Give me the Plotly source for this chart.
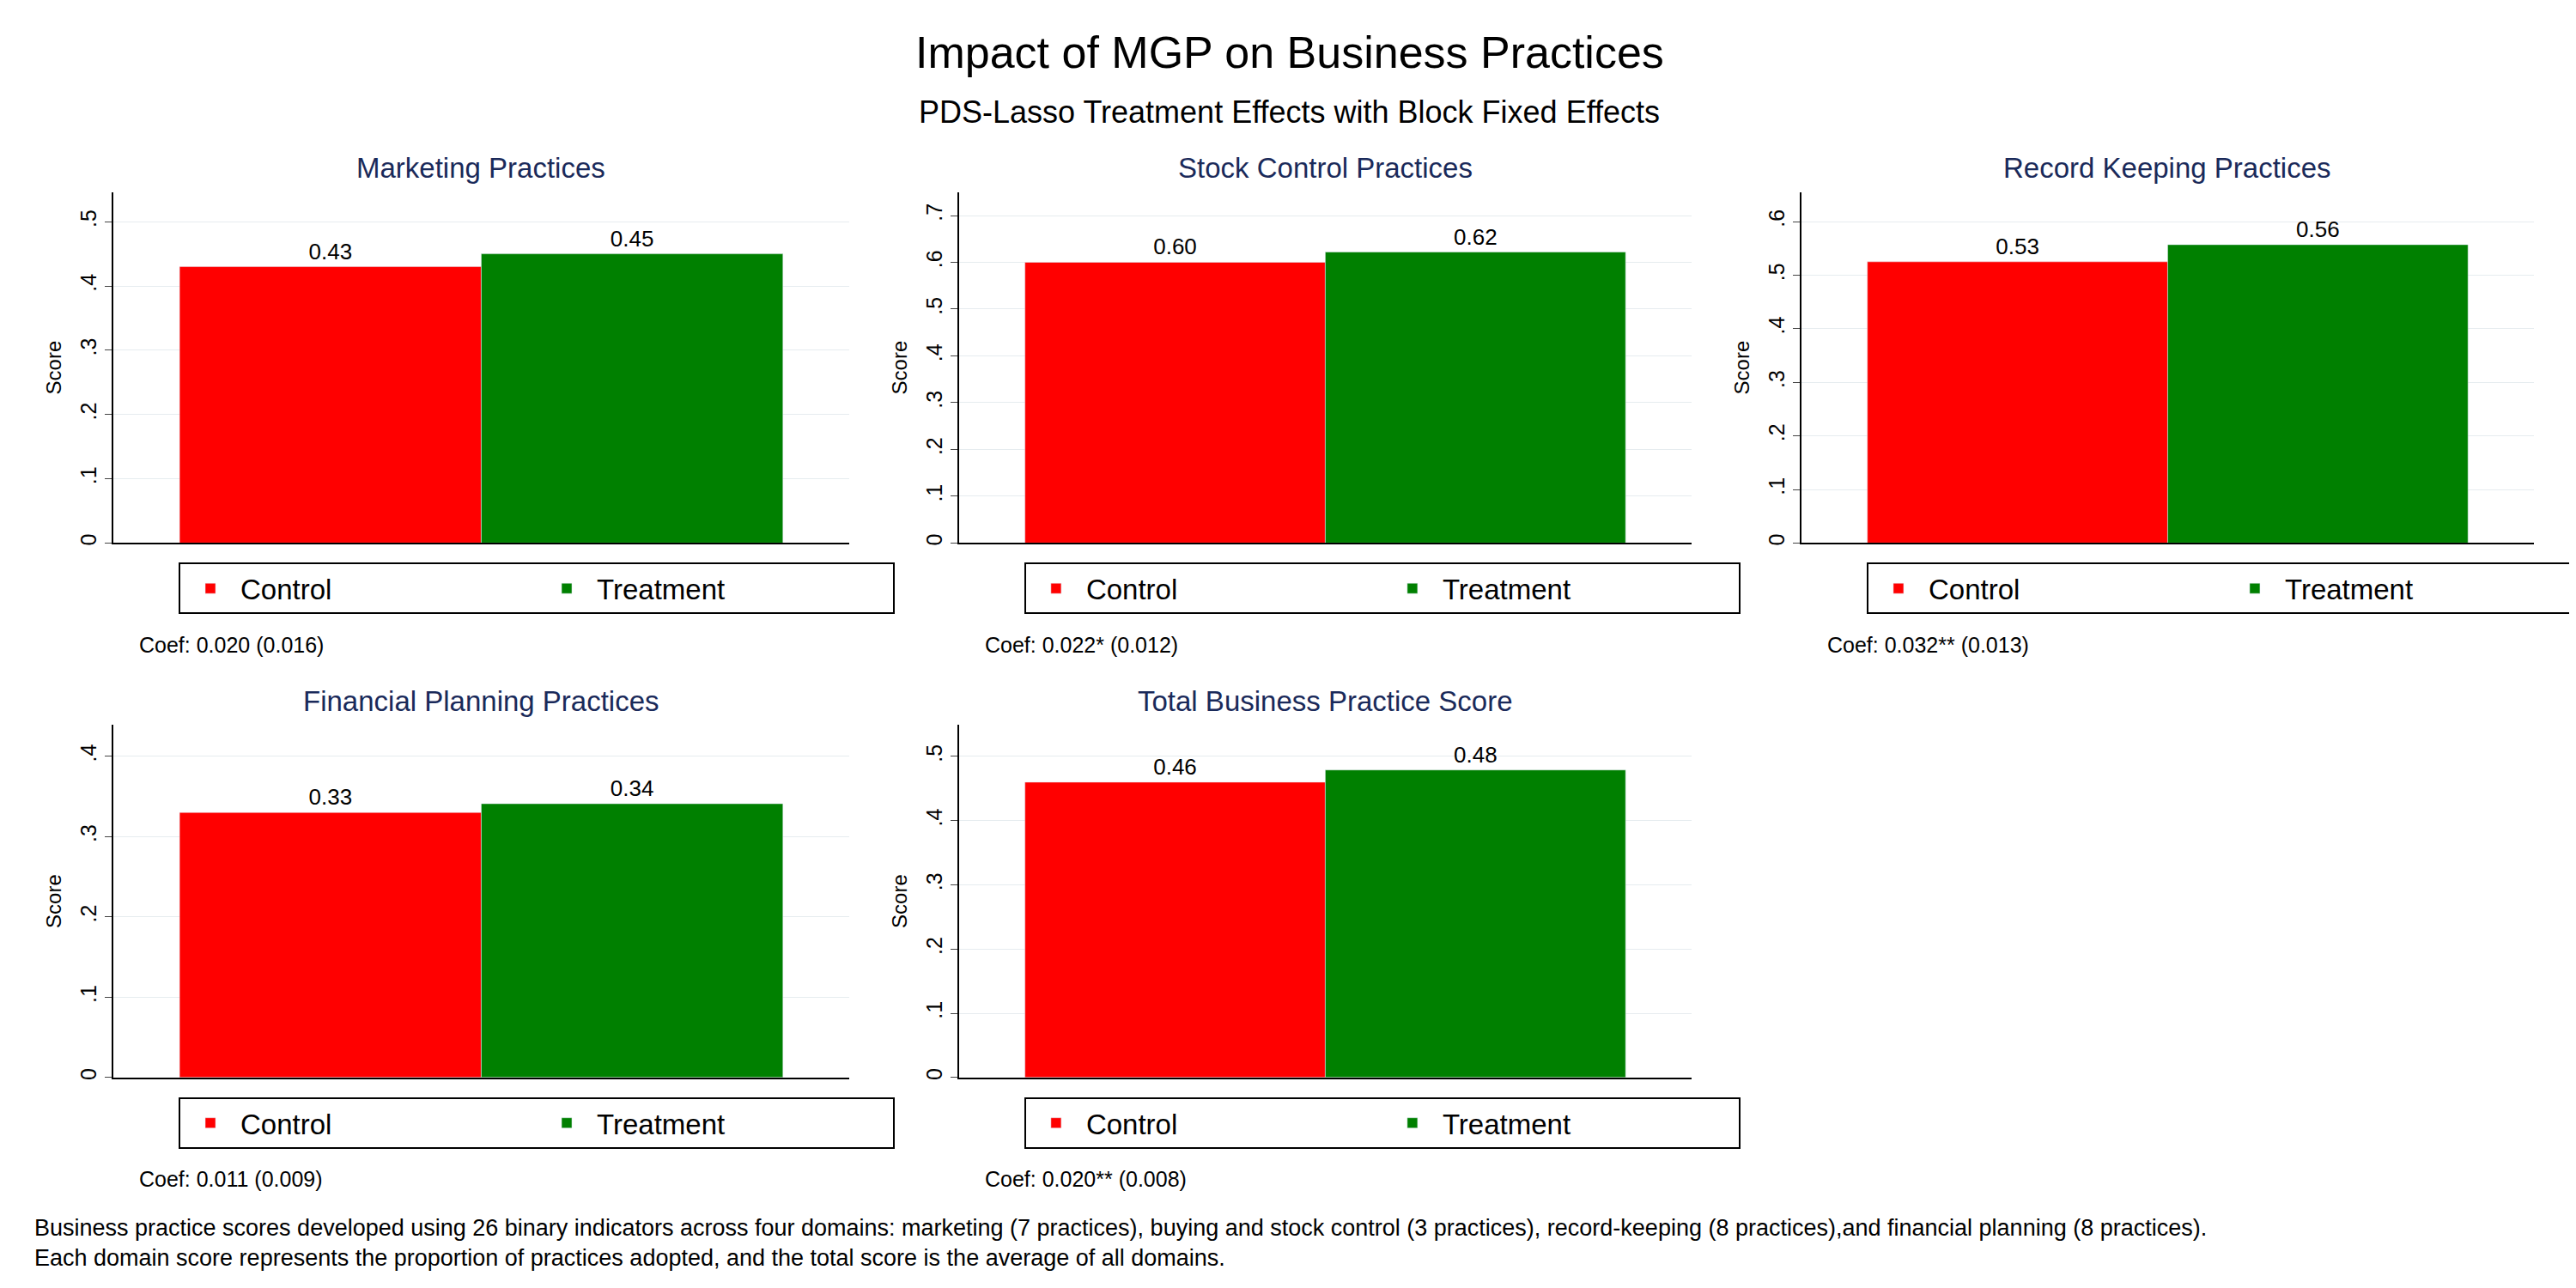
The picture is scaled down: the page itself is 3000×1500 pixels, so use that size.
import plotly.graph_objects as go

titles = ["Marketing Practices", "Stock Control Practices", "Record Keeping Practices",
          "Financial Planning Practices", "Total Business Practice Score"]
control = [0.43, 0.60, 0.525, 0.33, 0.46]
treatment = [0.45, 0.622, 0.557, 0.341, 0.479]
control_lbl = ["0.43", "0.60", "0.53", "0.33", "0.46"]
treat_lbl = ["0.45", "0.62", "0.56", "0.34", "0.48"]
coefs = ["Coef: 0.020 (0.016)", "Coef: 0.022* (0.012)", "Coef: 0.032** (0.013)",
         "Coef: 0.011 (0.009)", "Coef: 0.020** (0.008)"]
ymax = [0.546, 0.75, 0.655, 0.439, 0.549]
ticks = [[0, .1, .2, .3, .4, .5], [0, .1, .2, .3, .4, .5, .6, .7], [0, .1, .2, .3, .4, .5, .6],
         [0, .1, .2, .3, .4], [0, .1, .2, .3, .4, .5]]

W = 1568.0
H = 784.0
xdom = [(65, 515), (582, 1030), (1097, 1545)]
ydom = [(113, 327), (438, 653)]
FONT = "Liberation Sans, Arial"

fig = go.Figure()
for i in range(5):
    r, c = divmod(i, 3)
    n = "" if i == 0 else str(i + 1)
    x0, x1 = xdom[c]
    y0, y1 = ydom[r]
    leg = "legend" + n
    fig.add_trace(go.Bar(x=[0], y=[control[i]], width=1, name="Control", marker_color="#ff0000",
                         text=[control_lbl[i]], textposition="outside", cliponaxis=False,
                         textfont=dict(size=26, color="black"),
                         xaxis="x" + n, yaxis="y" + n, legend=leg))
    fig.add_trace(go.Bar(x=[1], y=[treatment[i]], width=1, name="Treatment", marker_color="#008000",
                         text=[treat_lbl[i]], textposition="outside", cliponaxis=False,
                         textfont=dict(size=26, color="black"),
                         xaxis="x" + n, yaxis="y" + n, legend=leg))
    fig.layout["xaxis" + n] = dict(domain=[x0 / W, x1 / W], anchor="y" + n, range=[-0.72, 1.72],
                                   showticklabels=False, showgrid=False, zeroline=False,
                                   showline=True, linecolor="black", linewidth=2, ticks="")
    fig.layout["yaxis" + n] = dict(domain=[1 - y1 / H, 1 - y0 / H], anchor="x" + n, range=[0, ymax[i]],
                                   tickvals=ticks[i], ticktext=[("%.1f" % t).lstrip("0") if t else "0" for t in ticks[i]],
                                   tickangle=-90, tickfont=dict(size=25), ticks="outside", ticklen=8,
                                   showgrid=True, gridcolor="#e6ecef", zeroline=False,
                                   showline=True, linecolor="black", linewidth=2,
                                   title=dict(text="Score", font=dict(size=24), standoff=10))
    fig.layout[leg] = dict(orientation="h", x=(x0 + 40) / W, xanchor="left", y=1 - (y1 + 12) / H,
                           yanchor="top", bordercolor="black", borderwidth=2,
                           font=dict(size=33), itemwidth=60, entrywidth=340, bgcolor="white")
    fig.add_annotation(text=titles[i], x=(x0 + x1) / 2 / W, y=1 - (y0 - 4) / H, xref="paper", yref="paper",
                       xanchor="center", yanchor="bottom", showarrow=False,
                       font=dict(size=33, color="#1a2a5a"))
    fig.add_annotation(text=coefs[i], x=(x0 + 15) / W, y=1 - (y1 + 62) / H, xref="paper", yref="paper",
                       xanchor="left", yanchor="middle", showarrow=False, font=dict(size=25))

fig.add_annotation(text="Impact of MGP on Business Practices", x=0.5, y=1 - 28 / H, xref="paper", yref="paper",
                   showarrow=False, font=dict(size=52), yanchor="middle")
fig.add_annotation(text="PDS-Lasso Treatment Effects with Block Fixed Effects", x=0.5, y=1 - 64 / H,
                   xref="paper", yref="paper", showarrow=False, font=dict(size=36), yanchor="middle")
fig.add_annotation(text="Business practice scores developed using 26 binary indicators across four domains: marketing (7 practices), buying and stock control (3 practices), record-keeping (8 practices),and financial planning (8 practices).<br>Each domain score represents the proportion of practices adopted, and the total score is the average of all domains.",
                   x=16 / W, y=1 - 754 / H, xref="paper", yref="paper", xanchor="left", yanchor="middle",
                   align="left", showarrow=False, font=dict(size=27))

fig.update_layout(width=3000, height=1500, margin=dict(l=0, r=0, t=0, b=0),
                  plot_bgcolor="white", paper_bgcolor="white", barmode="overlay",
                  font=dict(family=FONT, color="black"))
fig.write_html("out.html")
